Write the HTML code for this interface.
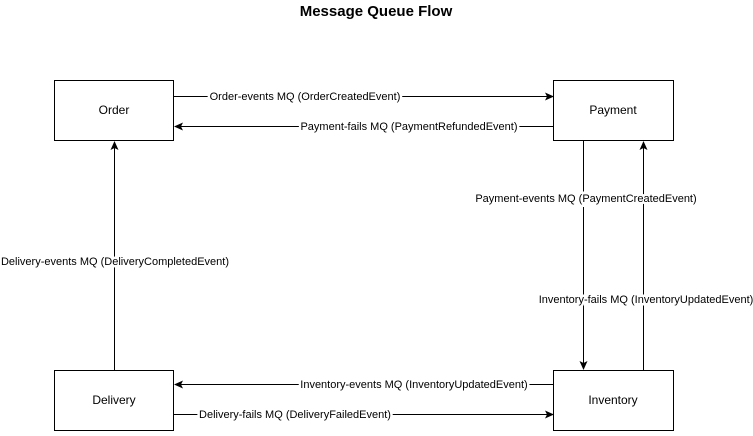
<!DOCTYPE html>
<html><head><style>html,body{margin:0;padding:0;background:#fff}</style></head><body>
<svg width="753" height="431" viewBox="0 0 753 431" xmlns="http://www.w3.org/2000/svg" font-family="Liberation Sans, Arial, sans-serif">
<defs><marker id="a" markerWidth="10" markerHeight="10" refX="8" refY="5" orient="auto" markerUnits="userSpaceOnUse"><path d="M0,1 L9,5 L0,9 L2,5 Z" fill="#000"/></marker></defs>
<rect width="753" height="431" fill="#fff"/>
<text x="376" y="16" text-anchor="middle" font-size="15" font-weight="bold">Message Queue Flow</text>
<g fill="#fff" stroke="#000" stroke-width="1">
<rect x="54.5" y="80.5" width="119" height="60"/>
<rect x="553.5" y="80.5" width="120" height="60"/>
<rect x="54.5" y="370.5" width="119" height="60"/>
<rect x="553.5" y="370.5" width="120" height="60"/>
</g>
<g font-size="12" text-anchor="middle">
<text x="114" y="114">Order</text>
<text x="613" y="114">Payment</text>
<text x="114" y="404">Delivery</text>
<text x="613" y="404">Inventory</text>
</g>
<g stroke="#000" stroke-width="1" fill="none">
<line x1="174" y1="96.5" x2="553" y2="96.5" marker-end="url(#a)"/>
<line x1="553" y1="126.5" x2="175" y2="126.5" marker-end="url(#a)"/>
<line x1="583.5" y1="141" x2="583.5" y2="369" marker-end="url(#a)"/>
<line x1="643.5" y1="370" x2="643.5" y2="142" marker-end="url(#a)"/>
<line x1="114.5" y1="370" x2="114.5" y2="142" marker-end="url(#a)"/>
<line x1="553" y1="384.5" x2="175" y2="384.5" marker-end="url(#a)"/>
<line x1="174" y1="414.5" x2="553" y2="414.5" marker-end="url(#a)"/>
</g>
<g font-size="11" text-anchor="middle" style="paint-order:stroke" stroke="#fff" stroke-width="5">
<text x="305" y="100">Order-events MQ (OrderCreatedEvent)</text>
<text x="409" y="130">Payment-fails MQ (PaymentRefundedEvent)</text>
<text x="586" y="202">Payment-events MQ (PaymentCreatedEvent)</text>
<text x="646" y="303">Inventory-fails MQ (InventoryUpdatedEvent)</text>
<text x="115" y="265">Delivery-events MQ (DeliveryCompletedEvent)</text>
<text x="414" y="388">Inventory-events MQ (InventoryUpdatedEvent)</text>
<text x="295" y="418">Delivery-fails MQ (DeliveryFailedEvent)</text>
</g>
</svg>
</body></html>
